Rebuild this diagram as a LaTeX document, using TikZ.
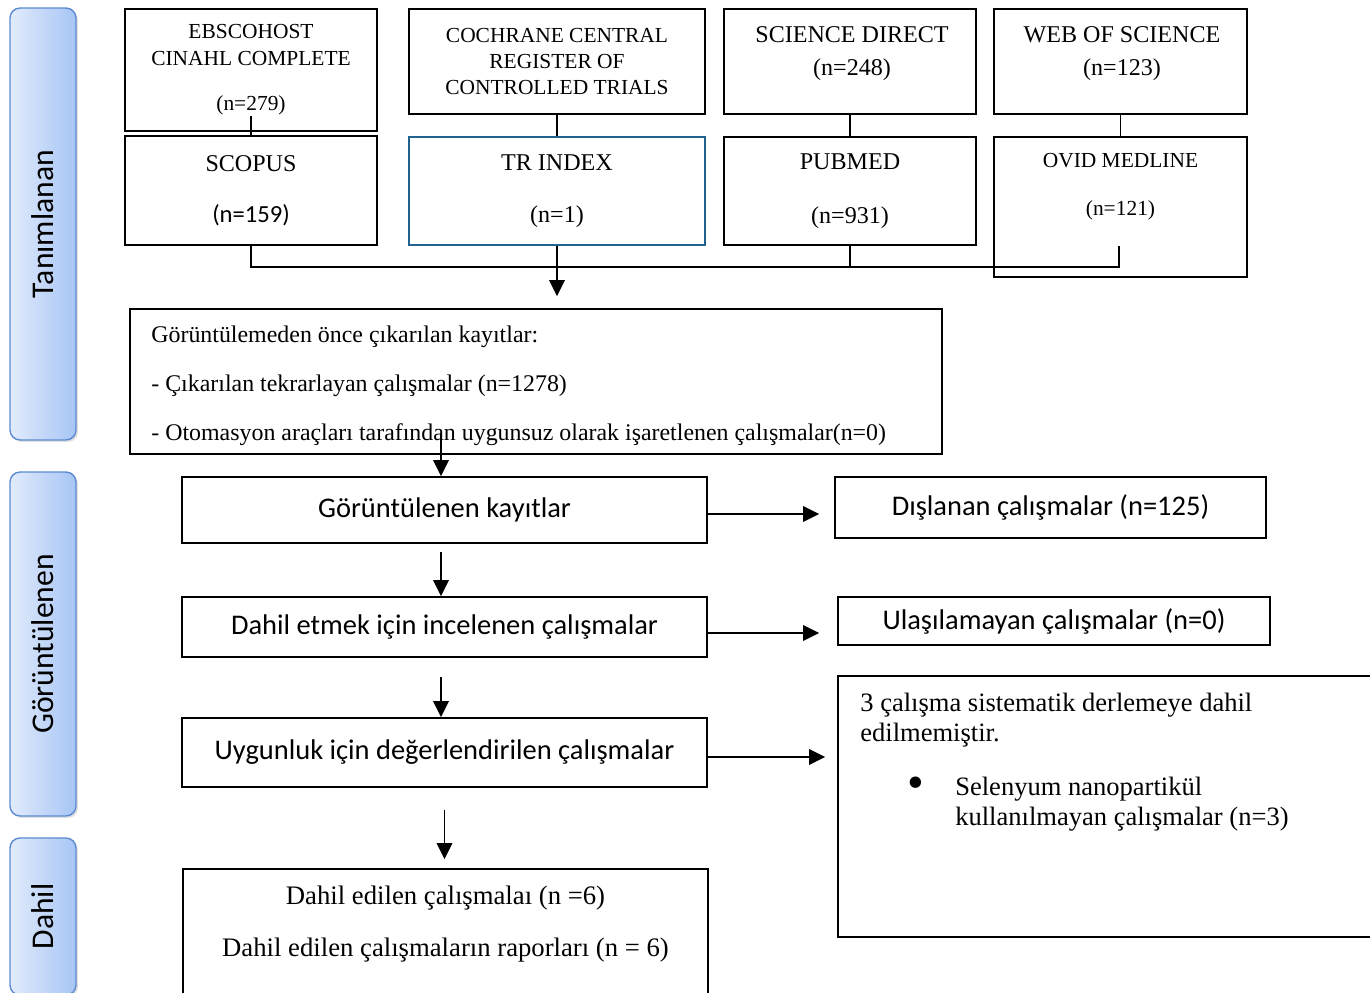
\documentclass[tikz,border=0pt]{standalone}
\usepackage{fontspec}
\usepackage{graphicx}
\setmainfont{Liberation Serif}
\newfontfamily\aptos{Carlito}
\usetikzlibrary{arrows.meta, positioning, shadows}
\definecolor{phaseleft}{HTML}{E2EBFB}
\definecolor{phaseright}{HTML}{A6C5F5}
\definecolor{phaseedge}{HTML}{5B8BD0}
\definecolor{trblue}{HTML}{1F6391}

\begin{document}
\begin{tikzpicture}[
    x=0.02cm, y=-0.02cm,
    dbbox/.style={rectangle, draw, line width=1pt, align=center, inner sep=0pt},
    dbtext/.style={align=center, inner sep=0pt, anchor=north},
    flowbox/.style={rectangle, draw, line width=1pt, align=center, inner sep=0pt, font=\aptos\fontsize{16.2}{19}\selectfont},
    phase/.style={rectangle, rounded corners=0.2cm, draw=phaseedge, line width=0.8pt, left color=phaseleft, right color=phaseright, minimum width=1.32cm, inner sep=0pt, font=\aptos\fontsize{18}{21}\selectfont, drop shadow={opacity=0.25, shadow xshift=0.04cm, shadow yshift=-0.04cm}},
    line/.style={draw, line width=1pt},
    arrow/.style={line, -{Triangle[length=0.32cm, width=0.31cm]}}
  ]
  \useasboundingbox (0,0) rectangle (1370,993);

  % phases
  \node[phase, minimum height=8.64cm] (identified) at (43,224) {\rotatebox{90}{Tanımlanan}};
  \node[phase, minimum height=6.88cm] (screening) at (43,644) {\rotatebox{90}{Görüntülenen}};
  \node[phase, minimum height=3.14cm] (inclusion) at (43,916.5) {\rotatebox{90}{Dahil}};

  % databases
  \node[dbbox, minimum width=5.04cm, minimum height=2.44cm, font=\fontsize{12.2}{15.4}\selectfont] (ebsco) at (251,70) {EBSCOHOST\\CINAHL COMPLETE\\[10.2pt](n=279)};
  \node[dbbox, minimum width=5.04cm, minimum height=2.18cm, font=\fontsize{13.7}{29}\selectfont] (scopus) at (251,190.5) {SCOPUS\\{\aptos\fontsize{14}{29}\selectfont (n=159)}};
  \node[dbbox, minimum width=5.92cm, minimum height=2.1cm, font=\fontsize{12.2}{14.8}\selectfont] (cochrane) at (557,61.5) {COCHRANE CENTRAL\\REGISTER OF\\CONTROLLED TRIALS};
  \node[dbbox, draw=trblue, minimum width=5.92cm, minimum height=2.16cm, font=\fontsize{13.7}{29.6}\selectfont] (trindex) at (557,191) {TR INDEX\\(n=1)};
  \node[dbbox, minimum width=5.04cm, minimum height=2.1cm] (scidir) at (850,61.5) {};
  \node[dbtext, font=\fontsize{13.7}{18.8}\selectfont] (scidirtxt) at (852,26) {SCIENCE DIRECT\\(n=248)};
  \node[dbbox, minimum width=5.04cm, minimum height=2.16cm, font=\fontsize{13.7}{30.7}\selectfont] (pubmed) at (850,191) {PUBMED\\(n=931)};
  \node[dbbox, minimum width=5.06cm, minimum height=2.1cm] (wos) at (1120.5,61.5) {};
  \node[dbtext, font=\fontsize{13.7}{18.8}\selectfont] (wostxt) at (1122,26) {WEB OF SCIENCE\\(n=123)};
  \node[dbbox, minimum width=5.06cm, minimum height=2.8cm] (ovid) at (1120.5,207) {};
  \node[dbtext, font=\fontsize{12.2}{27.3}\selectfont] (ovidtxt) at (1120.5,153) {OVID MEDLINE\\(n=121)};

  % flow
  \node[dbbox, minimum width=16.24cm, minimum height=2.9cm] (removed) at (536,381.5) {};
  \node[align=left, inner sep=0pt, anchor=north west, font=\fontsize{13.6}{27.9}\selectfont] (removedtxt) at (151,326) {Görüntülemeden önce çıkarılan kayıtlar:\\- Çıkarılan tekrarlayan çalışmalar (n=1278)\\- Otomasyon araçları tarafından uygunsuz olarak işaretlenen çalışmalar(n=0)};
  \node[flowbox, minimum width=10.5cm, minimum height=1.32cm] (screened) at (444.5,510) {Görüntülenen kayıtlar};
  \node[flowbox, minimum width=8.62cm, minimum height=1.22cm] (excluded) at (1050.5,507.5) {Dışlanan çalışmalar (n=125)};
  \node[flowbox, minimum width=10.5cm, minimum height=1.2cm] (sought) at (444.5,627) {Dahil etmek için incelenen çalışmalar};
  \node[flowbox, minimum width=8.64cm, minimum height=0.96cm] (notretrieved) at (1054,621) {Ulaşılamayan çalışmalar (n=0)};
  \node[flowbox, minimum width=10.5cm, minimum height=1.38cm] (assessed) at (444.5,752.5) {Uygunluk için değerlendirilen çalışmalar};
  \node[dbbox, minimum width=10.84cm, minimum height=5.22cm] (reasons) at (1109,806.5) {};
  \node[align=left, inner sep=0pt, anchor=north west, font=\fontsize{15.1}{17.1}\selectfont] (reasonstxt) at (860,693) {3 çalışma sistematik derlemeye dahil\\edilmemiştir.\\[13.6pt]\makebox[1.9cm][l]{\hspace*{0.94cm}\raisebox{-0.1em}{\scalebox{1.8}{\textbullet}}}Selenyum nanopartikül\\\hspace*{1.9cm}kullanılmayan çalışmalar (n=3)};
  \node[dbbox, minimum width=10.5cm, minimum height=2.82cm] (included) at (445.5,939.5) {};
  \node[dbtext, font=\fontsize{15.2}{29.6}\selectfont] (includedtxt) at (445.5,886) {Dahil edilen çalışmalaı (n =6)\\Dahil edilen çalışmaların raporları (n = 6)};

  % connectors
  \coordinate (bus) at (558,267);
  \coordinate (ovidend) at (1119,246);
  \draw[line] ([yshift=0.32cm]ebsco.south) -- (scopus.north);
  \draw[line] (cochrane.south) -- (trindex.north);
  \draw[line] (scidir.south) -- (pubmed.north);
  \draw[line] (wos.south) -- (ovid.north);
  \draw[line] (scopus.south) |- (bus) -| (ovidend);
  \draw[line] (pubmed.south) -- (pubmed.south |- bus);
  \draw[arrow] (trindex.south) -- ([yshift=0.24cm]trindex.south |- removed.north);
  \draw[arrow] ([xshift=-0.07cm, yshift=0.44cm]screened.north |- removed.south) -- ([xshift=-0.07cm]screened.north);
  \draw[arrow] ([xshift=-0.07cm, yshift=-0.16cm]screened.south) -- ([xshift=-0.07cm]sought.north);
  \draw[arrow] ([xshift=-0.07cm, yshift=-0.38cm]sought.south) -- ([xshift=-0.07cm]assessed.north);
  \draw[arrow, shorten >=0.18cm] ([yshift=-0.44cm]assessed.south) -- (assessed.south |- included.north);
  \draw[arrow, shorten >=0.3cm] ([yshift=-0.08cm]screened.east) -- ([yshift=-0.08cm]screened.east -| excluded.west);
  \draw[arrow, shorten >=0.36cm] ([yshift=-0.12cm]sought.east) -- ([yshift=-0.12cm]sought.east -| notretrieved.west);
  \draw[arrow, shorten >=0.24cm] ([yshift=-0.09cm]assessed.east) -- ([yshift=-0.09cm]assessed.east -| reasons.west);
\end{tikzpicture}
\end{document}
